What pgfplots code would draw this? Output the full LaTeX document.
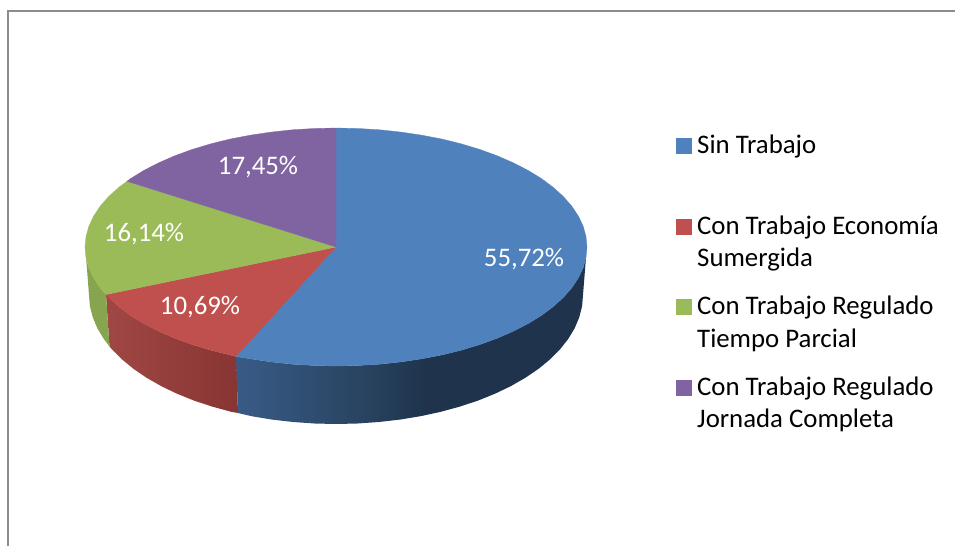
\documentclass[border=0pt]{standalone}
\usepackage{fontspec}
\setmainfont{Carlito}
\usepackage{pgfplots}
\pgfplotsset{compat=1.18}
\definecolor{cblue}{HTML}{4F81BD}
\definecolor{cred}{HTML}{C0504D}
\definecolor{cgreen}{HTML}{9BBB59}
\definecolor{cpurple}{HTML}{8064A2}
\definecolor{frame}{HTML}{8C8C8C}
\definecolor{sb1}{HTML}{385B87}
\definecolor{sb2}{HTML}{2A4563}
\definecolor{sb3}{HTML}{1F344C}
\definecolor{sr1}{HTML}{A04744}
\definecolor{sr2}{HTML}{873533}
\definecolor{sg1}{HTML}{87A44F}
\pgfdeclarehorizontalshading{blueside}{100bp}{color(0bp)=(sb1);color(25bp)=(sb1);color(42bp)=(sb2);color(52bp)=(sb3);color(100bp)=(sb3)}
\pgfdeclarehorizontalshading{redside}{100bp}{color(0bp)=(sr1);color(25bp)=(sr1);color(75bp)=(sr2);color(100bp)=(sr2)}
\begin{document}
\begin{tikzpicture}
\begin{axis}[
  scale only axis, width=955pt, height=546pt,
  xmin=0, xmax=955, ymin=0, ymax=546, y dir=reverse,
  ticks=none, axis line style={draw=none},
]
% frame, cut off at the right and at the bottom
\addplot[frame, line width=2pt] coordinates {(8,546) (8,11) (955,11)};

% sides of the pie
\addplot[draw=none, shading=blueside] coordinates {
 (236,356.5) (250.2,358.8) (271,361.9) (292.4,364.2) (314.1,365.5) (336,366) (357.9,365.5) (379.6,364.2)
 (401,361.9) (421.8,358.8) (442.1,354.9) (461.5,350.1) (480,344.5) (497.3,338.2) (513.5,331.1) (528.3,323.5)
 (541.6,315.3) (553.4,306.5) (563.5,297.3) (571.9,287.7) (578.4,277.8) (583.2,267.7) (586,257.4)
 (583,295) (582.1,306.2) (579.2,317.4) (574.6,328.4) (568.1,339.1) (559.9,349.5) (549.9,359.5) (538.3,369)
 (525.2,377.9) (510.7,386.2) (494.8,393.8) (477.7,400.7) (459.5,406.7) (440.4,411.9) (420.5,416.2) (399.9,419.6)
 (378.9,422) (357.5,423.5) (336,424) (314.5,423.5) (293.1,422) (272.1,419.6) (251.5,416.2) (238,413)
} -- cycle;
\addplot[draw=none, shading=redside] coordinates {
 (106,294.5) (118.6,306.5) (130.4,315.3) (143.7,323.5) (158.5,331.1) (174.7,338.2) (192,344.5) (210.5,350.1)
 (229.9,354.9) (236,356.5)
 (238,413) (231.6,411.9) (212.5,406.7) (194.3,400.7) (177.2,393.8) (161.3,386.2) (146.8,377.9) (133.7,369)
 (122.1,359.5) (112.1,349.5) (109.5,346.5)
} -- cycle;
\addplot[draw=none, fill=sg1] coordinates {
 (85.5,250) (86,257.4) (88.8,267.7) (93.6,277.8) (100.1,287.7) (106,294.5)
 (109.5,346.5) (103.9,339.1) (97.4,328.4) (92.8,317.4) (89.9,306.2) (89,295)
} -- cycle;

% top of the pie
\addplot[cblue, fill=cblue, line width=0.3pt] coordinates {
 (336,247) (336,128) (357.9,128.5) (379.6,129.8) (401,132.1) (421.8,135.2) (442.1,139.1) (461.5,143.9) (480,149.5)
 (497.3,155.8) (513.5,162.9) (528.3,170.5) (541.6,178.7) (553.4,187.5) (563.5,196.7) (571.9,206.3) (578.4,216.2)
 (583.2,226.3) (586,236.6) (587,247) (586,257.4) (583.2,267.7) (578.4,277.8) (571.9,287.7) (563.5,297.3)
 (553.4,306.5) (541.6,315.3) (528.3,323.5) (513.5,331.1) (497.3,338.2) (480,344.5) (461.5,350.1) (442.1,354.9)
 (421.8,358.8) (401,361.9) (379.6,364.2) (357.9,365.5) (336,366) (314.1,365.5) (292.4,364.2) (271,361.9)
 (250.2,358.8) (236,356.5)
} -- cycle;
\addplot[cred, fill=cred, line width=0.3pt] coordinates {
 (336,247) (236,356.5) (229.9,354.9) (210.5,350.1) (192,344.5) (174.7,338.2) (158.5,331.1) (143.7,323.5)
 (130.4,315.3) (118.6,306.5) (108.5,297.3) (106,294.5)
} -- cycle;
\addplot[cgreen, fill=cgreen, line width=0.3pt] coordinates {
 (336,247) (106,294.5) (100.1,287.7) (93.6,277.8) (88.8,267.7) (86,257.4) (85,247) (86,236.6) (88.8,226.3)
 (93.6,216.2) (100.1,206.3) (108.5,196.7) (118.6,187.5) (127,181.3)
} -- cycle;
\addplot[cpurple, fill=cpurple, line width=0.3pt] coordinates {
 (336,247) (127,181.3) (130.4,178.7) (143.7,170.5) (158.5,162.9) (174.7,155.8) (192,149.5) (210.5,143.9)
 (229.9,139.1) (250.2,135.2) (271,132.1) (292.4,129.8) (314.1,128.5) (336,128)
} -- cycle;

% legend keys
\addplot[only marks, mark=square*, mark size=7.3pt, cblue] coordinates {(683.5,145.5)};
\addplot[only marks, mark=square*, mark size=7.3pt, cred] coordinates {(683.5,226.5)};
\addplot[only marks, mark=square*, mark size=7.3pt, cgreen] coordinates {(683.5,306.5)};
\addplot[only marks, mark=square*, mark size=7.3pt, cpurple] coordinates {(683.5,387.5)};

\begin{scope}[every node/.style={font=\fontsize{26.8}{30}\selectfont, text=white, inner sep=0pt}]
\node at (axis cs:524,259.5) {55,72\%};
\node at (axis cs:200,307.5) {10,69\%};
\node at (axis cs:144,234) {16,14\%};
\node at (axis cs:258,167.5) {17,45\%};
\end{scope}
\begin{scope}[every node/.style={font=\fontsize{26.8}{30}\selectfont, text=black, inner sep=0pt, anchor=base west}]
\node at (axis cs:697,153) {Sin Trabajo};
\node at (axis cs:697,234) {Con Trabajo Economía};
\node at (axis cs:697,266.5) {Sumergida};
\node at (axis cs:697,314) {Con Trabajo Regulado};
\node at (axis cs:697,347) {Tiempo Parcial};
\node at (axis cs:697,395) {Con Trabajo Regulado};
\node at (axis cs:697,427) {Jornada Completa};
\end{scope}
\end{axis}
\end{tikzpicture}
\end{document}
